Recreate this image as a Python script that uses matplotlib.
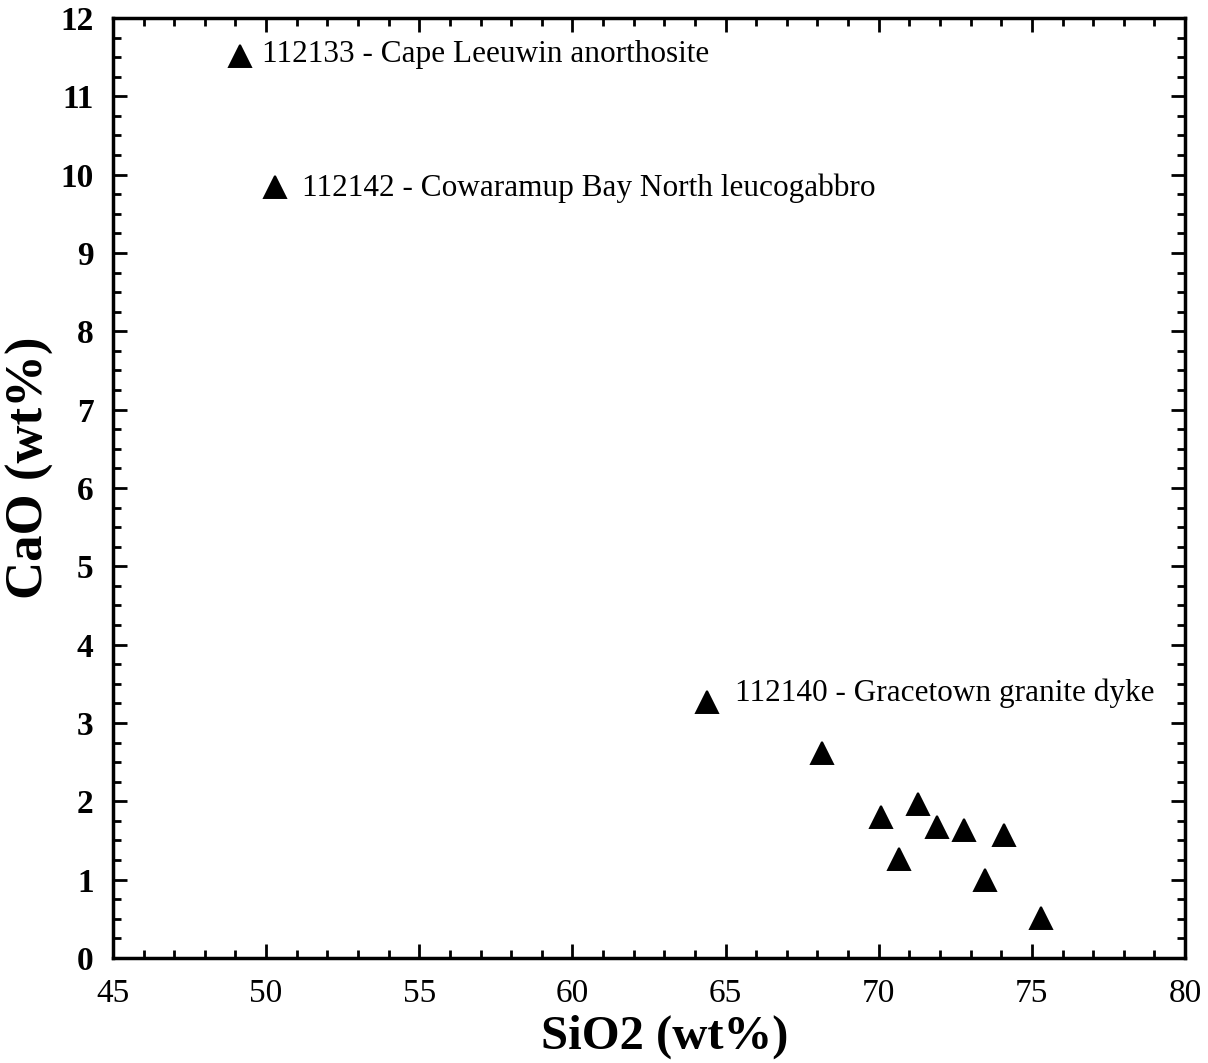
import matplotlib
matplotlib.use("Agg")
import matplotlib.pyplot as plt
from matplotlib.ticker import MultipleLocator

plt.rcParams['font.family'] = ['Liberation Serif', 'DejaVu Serif']

sio2 = [49.15, 50.3, 64.4, 68.15, 70.07, 71.29, 70.67, 71.9, 72.77, 74.08, 73.47, 75.3]
cao = [11.52, 9.84, 3.27, 2.62, 1.80, 1.97, 1.26, 1.67, 1.63, 1.57, 0.99, 0.51]
labels = ["112133 - Cape Leeuwin anorthosite",
          "112142 - Cowaramup Bay North leucogabbro",
          "112140 - Gracetown granite dyke"]
label_offsets = [(16, 1), (19, -1), (20, 6)]

fig = plt.figure(figsize=(12.08, 10.63), dpi=100)
ax = fig.add_axes([0.0935, 0.0988, 0.8875, 0.8843])
ax.plot(sio2, cao, linestyle='none', marker='^', ms=16, mfc='black', mec='black', mew=1.4)
for i, lab in enumerate(labels):
    ax.annotate(lab, (sio2[i], cao[i]), xytext=label_offsets[i], textcoords='offset points',
                ha='left', va='center', fontsize=22.5)

ax.set_xlim(45, 80)
ax.set_ylim(0, 12)
ax.xaxis.set_major_locator(MultipleLocator(5))
ax.xaxis.set_minor_locator(MultipleLocator(1))
ax.yaxis.set_major_locator(MultipleLocator(1))
ax.yaxis.set_minor_locator(MultipleLocator(0.25))
ax.tick_params(which='both', direction='in', top=True, right=True, width=2)
ax.tick_params(which='major', length=10)
ax.tick_params(which='minor', length=6)
ax.tick_params(axis='x', labelsize=24, pad=15)
ax.tick_params(axis='y', labelsize=24, pad=14)
for t in ax.get_yticklabels():
    t.set_fontweight('bold')
for s in ax.spines.values():
    s.set_linewidth(2.5)
ax.set_xlabel('SiO2 (wt%)', fontsize=35, fontweight='bold')
ax.set_ylabel('CaO (wt%)', fontsize=38, fontweight='bold')
ax.xaxis.set_label_coords(0.515, -0.06)
ax.yaxis.set_label_coords(-0.055, 0.522)
fig.savefig('out.png', dpi=100)
